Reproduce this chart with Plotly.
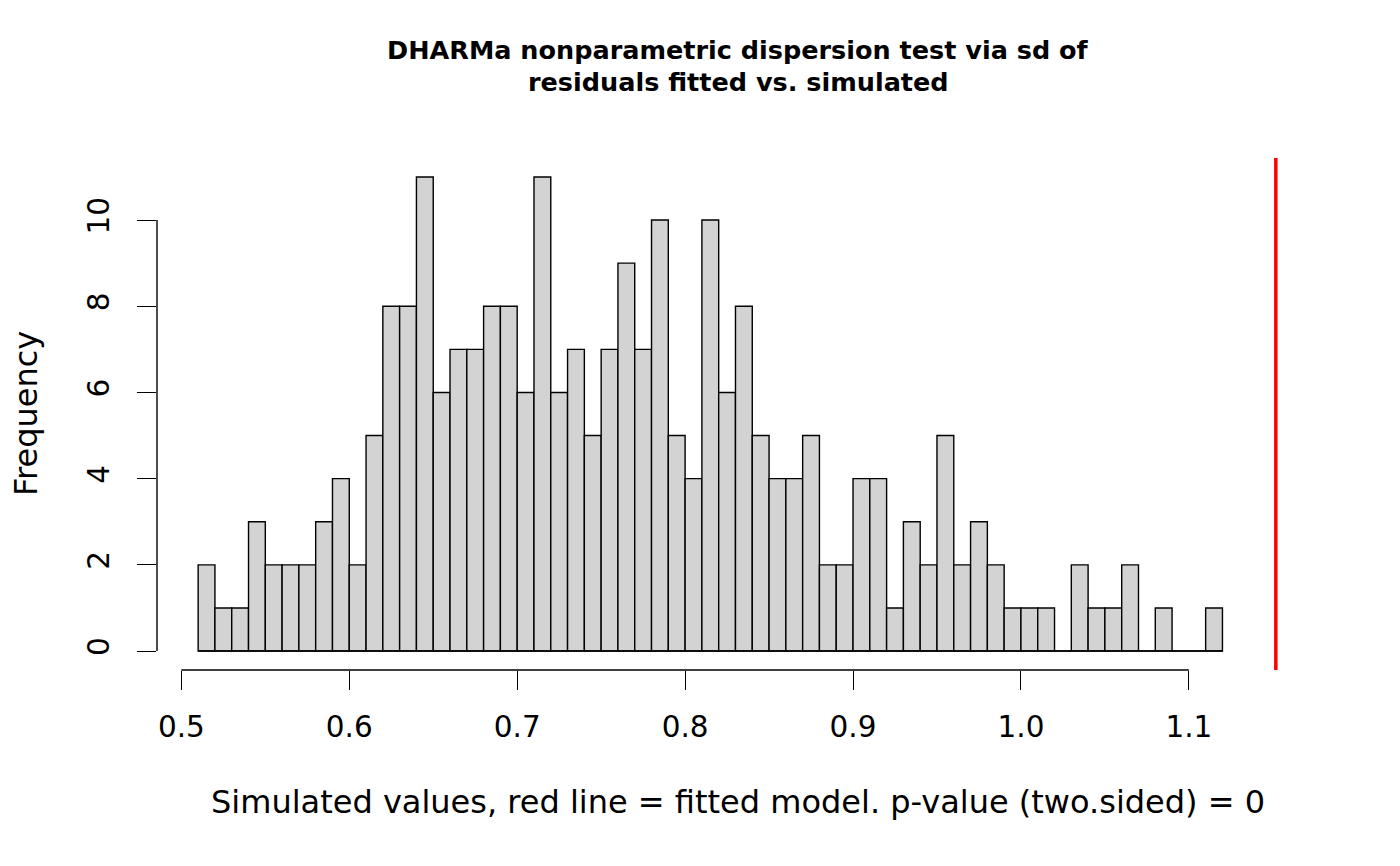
import plotly.graph_objects as go

# histogram of simulated dispersion statistics (bin width 0.01, starting at 0.51)
bin_start = 0.51
bin_width = 0.01
counts = [2, 1, 1, 3, 2, 2, 2, 3, 4, 2,
          5, 8, 8, 11, 6, 7, 7, 8, 8, 6,
          11, 6, 7, 5, 7, 9, 7, 10, 5, 4,
          10, 6, 8, 5, 4, 4, 5, 2, 2, 4,
          4, 1, 3, 2, 5, 2, 3, 2, 1, 1,
          1, 0, 2, 1, 1, 2, 0, 1, 0, 0, 1]
observed = 1.1518  # fitted model value (red line)

x_ticks = [0.5, 0.6, 0.7, 0.8, 0.9, 1.0, 1.1]
x_ticktext = ["0.5", "0.6", "0.7", "0.8", "0.9", "1.0", "1.1"]
y_ticks = [0, 2, 4, 6, 8, 10]

centers = [bin_start + bin_width * (i + 0.5) for i in range(len(counts))]
bin_end = bin_start + bin_width * len(counts)

FONT = "DejaVu Sans"

fig = go.Figure()
fig.add_trace(go.Bar(
    x=centers, y=counts, width=bin_width,
    marker=dict(color="#D3D3D3", line=dict(color="black", width=1.4)),
    hoverinfo="x+y", showlegend=False,
))

# baseline for the empty bins (R draws them as flat lines)
fig.add_shape(type="line", xref="x", yref="y", x0=bin_start, x1=bin_end, y0=0, y1=0,
              line=dict(color="black", width=1.4), layer="above")
# observed value
fig.add_shape(type="line", xref="x", yref="paper", x0=observed, x1=observed, y0=0, y1=1,
              line=dict(color="#FF0000", width=3.5))
# R-style axis lines that only span the tick range
fig.add_shape(type="line", xref="x", yref="paper", x0=x_ticks[0], x1=x_ticks[-1], y0=0, y1=0,
              line=dict(color="black", width=1.4))
fig.add_shape(type="line", xref="paper", yref="y", x0=0, x1=0, y0=y_ticks[0], y1=y_ticks[-1],
              line=dict(color="black", width=1.4))

# title lines
fig.add_annotation(text="<b>DHARMa nonparametric dispersion test via sd of</b>",
                   xref="paper", yref="paper", x=0.5, y=1, yshift=125,
                   showarrow=False, font=dict(family=FONT, size=25.5, color="black"))
fig.add_annotation(text="<b>residuals fitted vs. simulated</b>",
                   xref="paper", yref="paper", x=0.5, y=1, yshift=93,
                   showarrow=False, font=dict(family=FONT, size=25.5, color="black"))
# axis titles
fig.add_annotation(text="Simulated values, red line = fitted model. p-value (two.sided) = 0",
                   xref="paper", yref="paper", x=0.5, y=0, yshift=-153,
                   showarrow=False, font=dict(family=FONT, size=32, color="black"))
fig.add_annotation(text="Frequency", textangle=-90,
                   xref="paper", yref="paper", x=0, y=0.5, xshift=-152,
                   showarrow=False, font=dict(family=FONT, size=32, color="black"))

fig.update_layout(
    width=1400, height=866,
    margin=dict(l=157, r=81, t=158, b=196),
    paper_bgcolor="white", plot_bgcolor="white",
    font=dict(family=FONT, size=29.5, color="black"),
    xaxis=dict(range=[0.4855, 1.1775], showgrid=False, zeroline=False, showline=False,
               tickvals=x_ticks, ticktext=x_ticktext, ticks="outside", ticklen=19,
               tickwidth=1.4, tickcolor="black", ticklabelstandoff=12),
    yaxis=dict(range=[-0.44, 11.44], showgrid=False, zeroline=False, showline=False,
               tickvals=y_ticks, ticks="outside", ticklen=19, tickwidth=1.4,
               tickcolor="black", tickangle=-90, ticklabelstandoff=16),
)

fig.write_html("out.html", config={"displayModeBar": False},
               post_script="document.body.style.margin='0';")
